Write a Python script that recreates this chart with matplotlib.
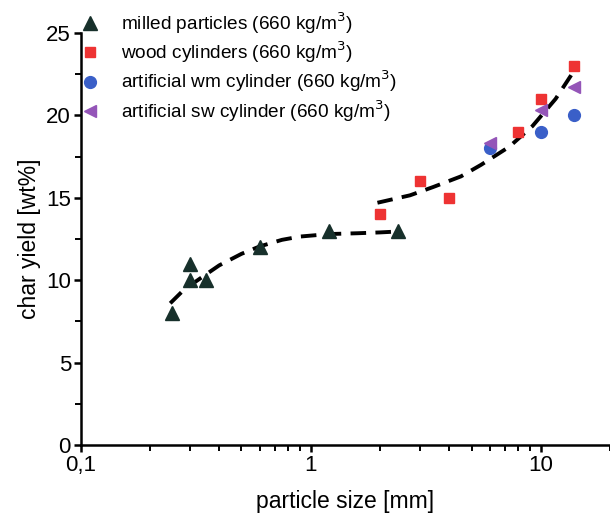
import numpy as np
import matplotlib
matplotlib.use('Agg')
import matplotlib.pyplot as plt
from matplotlib.ticker import FixedLocator, FixedFormatter, MultipleLocator

plt.rcParams['font.family'] = ['Liberation Sans', 'DejaVu Sans']

# measured char yields per sample type
milled_x = [0.25, 0.3, 0.3, 0.35, 0.6, 1.2, 2.4]
milled_y = [8, 11, 10, 10, 12, 13, 13]

wood_x = [2, 3, 4, 8, 10, 14]
wood_y = [14, 16, 15, 19, 21, 23]

wm_x = [6, 10, 14]
wm_y = [18, 19, 20]

sw_x = [6, 10, 14]
sw_y = [18.3, 20.3, 21.7]

# trend lines for the two size regimes
trend1_x = [0.245, 0.28, 0.33, 0.4, 0.5, 0.6, 0.75, 0.9, 1.2, 1.6, 2.0, 2.35]
trend1_y = [8.6, 9.4, 10.1, 10.9, 11.6, 12.05, 12.45, 12.65, 12.8, 12.85, 12.9, 12.95]
trend2_x = [1.95, 2.7, 3.4, 4.5, 5.5, 7.3, 9.2, 11.6, 13.5, 13.9]
trend2_y = [14.7, 15.15, 15.65, 16.3, 17.0, 18.1, 19.35, 21.0, 22.4, 22.7]

x_major = [0.1, 1, 10]
x_labels = ['0,1', '1', '10']

fig = plt.figure(figsize=(6.10, 5.18), dpi=100)
ax = fig.add_axes([0.1323, 0.1409, 1 - 0.1323, 0.7954])

dash = dict(color='black', linewidth=2.8, dashes=(4.0, 2.4), dash_capstyle='butt')
ax.plot(trend1_x, trend1_y, **dash)
ax.plot(trend2_x, trend2_y, **dash)

ax.plot(milled_x, milled_y, '^', color='#17302b', markersize=10, linestyle='none',
        label='milled particles (660 kg/m$^3$)')
ax.plot(wood_x, wood_y, 's', color='#ee3333', markersize=7.5, linestyle='none',
        label='wood cylinders (660 kg/m$^3$)')
ax.plot(wm_x, wm_y, 'o', color='#3a5fc8', markersize=8.5, linestyle='none',
        label='artificial wm cylinder (660 kg/m$^3$)')
ax.plot(sw_x, sw_y, '<', color='#9455b8', markersize=8.5, linestyle='none',
        label='artificial sw cylinder (660 kg/m$^3$)')

ax.set_xscale('log')
ax.set_xlim(0.1, 20)
ax.set_ylim(0, 25)

ax.xaxis.set_major_locator(FixedLocator(x_major))
ax.xaxis.set_major_formatter(FixedFormatter(x_labels))
minor = [m * d for d in (0.1, 1) for m in range(2, 10)] + [20]
ax.xaxis.set_minor_locator(FixedLocator(minor))
ax.yaxis.set_major_locator(MultipleLocator(5))
ax.yaxis.set_minor_locator(MultipleLocator(2.5))

ax.spines['top'].set_visible(False)
ax.spines['right'].set_visible(False)
for s in ('left', 'bottom'):
    ax.spines[s].set_linewidth(1.8)
ax.tick_params(which='major', direction='out', length=5, width=1.8,
               labelsize=16, pad=2)
ax.tick_params(which='minor', direction='out', length=4, width=1.4)

ax.set_xlabel('particle size [mm]', fontsize=16.5, labelpad=10)
ax.set_ylabel('char yield [wt%]', fontsize=16.5, labelpad=4)

leg = ax.legend(loc='upper left', bbox_to_anchor=(0.12, 0.995), bbox_transform=fig.transFigure,
                frameon=False, fontsize=13.7, handlelength=1.0, handletextpad=1.1,
                labelspacing=0.2, borderaxespad=0, numpoints=1)

fig.savefig('out.png', dpi=100)
